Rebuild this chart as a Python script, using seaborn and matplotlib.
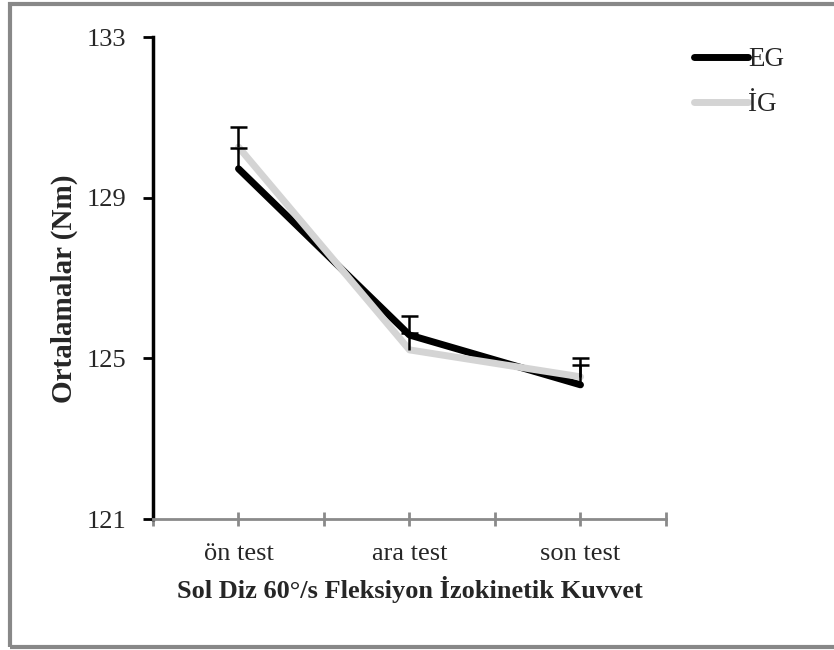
import matplotlib
matplotlib.use("Agg")
import matplotlib.pyplot as plt
import matplotlib.patches as patches
import seaborn as sns
import pandas as pd
import numpy as np

# Measurement phases and group means (Nm)
phases = ["ön test", "ara test", "son test"]
eg_means = [129.72, 125.58, 124.34]
ig_means = [130.26, 125.21, 124.54]
eg_err = [0.52, 0.48, 0.49]
ig_err = [0.50, 0.42, 0.48]
groups = ["EG", "İG"]
yticks = [121, 125, 129, 133]

df = pd.DataFrame({
    "faz": list(range(len(phases))) * 2,
    "ortalama": eg_means + ig_means,
    "grup": [groups[0]] * len(phases) + [groups[1]] * len(phases),
})

sns.set_theme(style="white")
plt.rcParams["font.family"] = ["Liberation Serif", "DejaVu Serif"]

fig = plt.figure(figsize=(8.34, 6.5), dpi=100)
ax = fig.add_axes([153 / 834, 1 - 519 / 650, (666 - 153) / 834, (519 - 37) / 650])

palette = {groups[0]: "#000000", groups[1]: "#d4d4d4"}
sns.lineplot(data=df, x="faz", y="ortalama", hue="grup", palette=palette,
             linewidth=5, ax=ax, legend=False, solid_capstyle="round")

# upper-only error bars with a cap at the top end
xs = np.arange(len(phases))
cap = 0.048
for means, errs in [(eg_means, eg_err), (ig_means, ig_err)]:
    tops = np.array(means) + np.array(errs)
    ax.vlines(xs, means, tops, color="black", linewidth=1.8, zorder=5)
    ax.hlines(tops, xs - cap, xs + cap, color="black", linewidth=1.8, zorder=5)

ax.set_xlim(-0.5, 2.5)
ax.set_ylim(121, 133)
ax.set_yticks(yticks)
ax.set_yticklabels([str(v) for v in yticks], fontsize=19)
ax.set_xticks(xs)
ax.set_xticklabels(phases, fontsize=19)
ax.set_xticks([-0.5, 0.5, 1.5, 2.5], minor=True)

for s in ["top", "right"]:
    ax.spines[s].set_visible(False)
ax.spines["left"].set_color("black")
ax.spines["left"].set_linewidth(2.5)
ax.spines["bottom"].set_color("#8a8a8a")
ax.spines["bottom"].set_linewidth(2)

ax.tick_params(axis="y", which="major", direction="out", length=7, width=2,
               color="black", left=True, pad=12)
ax.tick_params(axis="x", which="both", direction="inout", length=10, width=2,
               color="#8a8a8a", bottom=True, pad=12)

ax.set_xlabel("Sol Diz 60°/s Fleksiyon İzokinetik Kuvvet", fontsize=19,
              fontweight="bold", labelpad=8)
ax.set_ylabel("Ortalamalar (Nm)", fontsize=21, fontweight="bold")
ax.yaxis.set_label_coords(-0.146, 0.477)

handles = [plt.Line2D([], [], color=palette[g], lw=5, solid_capstyle="round")
           for g in groups]
fig.legend(handles, groups, loc="upper left", bbox_to_anchor=(694 / 834, 1 - 47 / 650),
           frameon=False, fontsize=19.5, handlelength=2.0, handletextpad=0.0,
           labelspacing=0.75, borderaxespad=0, borderpad=0)

# figure frame
fig.patches.append(patches.Rectangle((10 / 834, 3 / 650), 1.0, 1 - 7 / 650,
                                     transform=fig.transFigure, fill=False,
                                     edgecolor="#888888", linewidth=3))

fig.savefig("out.png", dpi=100)
